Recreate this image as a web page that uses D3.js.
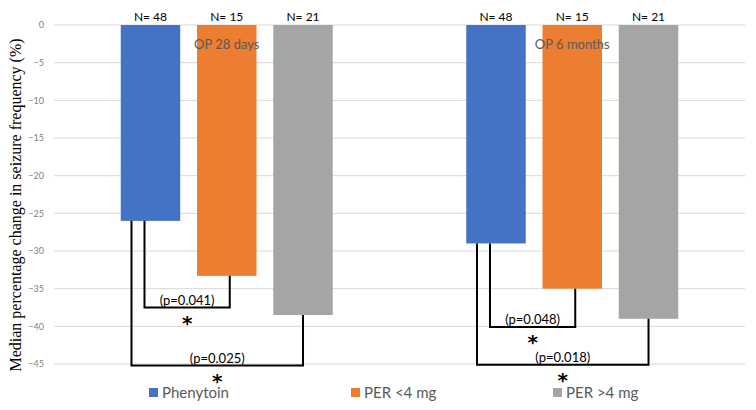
<!DOCTYPE html>
<html>
<head>
<meta charset="utf-8">
<script src="https://cdn.jsdelivr.net/npm/d3@7"></script>
<style>
  body { margin: 0; background: #fff; }
  text { font-family: Lato, "Open Sans", sans-serif; }
</style>
</head>
<body>
<svg id="chart" width="756" height="410"></svg>
<script>
// data
var periods = ['OP 28 days', 'OP 6 months'];
var series = ['Phenytoin', 'PER <4 mg', 'PER >4 mg'];
var colors = ['#4472c4', '#ed7d31', '#a5a5a5'];
var nLabels = ['N= 48', 'N= 15', 'N= 21'];
var values28d = [-26, -33.3, -38.5];
var values6m = [-29, -35, -39];
var yTicks = [0, -5, -10, -15, -20, -25, -30, -35, -40, -45];
// comparisons: period index, from series, to series, bracket level, label
var comparisons = [
    { period: 0, from: 0, to: 1, level: -37.5, p: '(p=0.041)' },
    { period: 0, from: 0, to: 2, level: -45.2, p: '(p=0.025)' },
    { period: 1, from: 0, to: 1, level: -40.1, p: '(p=0.048)' },
    { period: 1, from: 0, to: 2, level: -45.1, p: '(p=0.018)' }
];

var allValues = [values28d, values6m];

var svg = d3.select('#chart');
var plotLeft = 54, plotRight = 745, plotTop = 25, plotBottom = 364;

var y = d3.scaleLinear().domain([0, -45]).range([plotTop, plotBottom]);
var x0 = d3.scaleBand().domain(periods).range([plotLeft, plotRight]).paddingInner(0).paddingOuter(0);
var x1 = d3.scaleBand().domain(series).range([0, 212]).paddingInner(0.22).paddingOuter(0);
var groupOffset = (x0.bandwidth() - 212) / 2;

function barX(p, s) {
    return x0(periods[p]) + groupOffset + x1(series[s]);
}
function barCenter(p, s) {
    return barX(p, s) + x1.bandwidth() / 2;
}

// grid
svg.append('g')
    .selectAll('line')
    .data(yTicks)
    .join('line')
    .attr('x1', plotLeft).attr('x2', plotRight)
    .attr('y1', function (d) { return y(d); })
    .attr('y2', function (d) { return y(d); })
    .style('stroke', '#d9d9d9')
    .style('stroke-width', 1);

// y axis labels
var yAxis = d3.axisLeft(y).tickValues(yTicks).tickSize(0).tickPadding(0);
svg.append('g')
    .attr('transform', 'translate(44,0)')
    .call(yAxis)
    .call(function (g) {
        g.select('.domain').remove();
        g.selectAll('text')
            .style('fill', '#7f7f7f')
            .style('font-size', '9px')
            .style('font-family', 'Lato, sans-serif');
    });

svg.append('text')
    .attr('transform', 'translate(21,205) rotate(-90)')
    .attr('text-anchor', 'middle')
    .style('font-family', '"Liberation Serif", "Times New Roman", serif')
    .style('font-size', '16px')
    .style('fill', '#000')
    .text('Median percentage change in seizure frequency (%)');

// bars
var groups = svg.append('g')
    .selectAll('g')
    .data(periods)
    .join('g');

groups.each(function (period, p) {
    var g = d3.select(this);
    g.selectAll('rect')
        .data(allValues[p])
        .join('rect')
        .attr('x', function (d, s) { return barX(p, s); })
        .attr('y', y(0))
        .attr('width', x1.bandwidth())
        .attr('height', function (d) { return y(d) - y(0); })
        .style('fill', function (d, s) { return colors[s]; });

    g.selectAll('text.n')
        .data(nLabels)
        .join('text')
        .attr('class', 'n')
        .attr('x', function (d, s) { return barCenter(p, s); })
        .attr('y', 21)
        .attr('text-anchor', 'middle')
        .style('font-size', '12px')
        .style('fill', '#000')
        .text(function (d) { return d; });

    g.append('text')
        .attr('x', barCenter(p, 1))
        .attr('y', 49)
        .attr('text-anchor', 'middle')
        .style('font-size', '13px')
        .style('fill', '#595959')
        .text(period);
});

// significance brackets
var br = svg.append('g');
comparisons.forEach(function (c) {
    var vals = allValues[c.period];
    var xl = barCenter(c.period, c.from) + (c.to === 1 ? -6 : -19);
    var xr = barCenter(c.period, c.to) + (c.to === 1 ? 3 : 0);
    var yl = y(vals[c.from]), yr = y(vals[c.to]), yb = y(c.level);
    br.append('path')
        .attr('d', 'M' + xl + ',' + yl + 'V' + yb + 'H' + xr + 'V' + yr)
        .style('fill', 'none')
        .style('stroke', '#000')
        .style('stroke-width', 2);
    var cx = (xl + xr) / 2;
    br.append('text')
        .attr('x', cx)
        .attr('y', yb - 3)
        .attr('text-anchor', 'middle')
        .style('font-size', '13px')
        .style('fill', '#000')
        .text(c.p);
    br.append('text')
        .attr('x', cx)
        .attr('y', yb + 22)
        .attr('text-anchor', 'middle')
        .style('font-family', '"DejaVu Sans", sans-serif')
        .style('font-size', '20px')
        .style('font-weight', 'bold')
        .style('fill', '#000')
        .text('*');
});

// legend
var legend = svg.append('g')
    .selectAll('g')
    .data(series)
    .join('g')
    .attr('transform', function (d, i) { return 'translate(' + (149 + i * 202) + ',393)'; });
legend.append('rect')
    .attr('x', 0).attr('y', -5)
    .attr('width', 9).attr('height', 9)
    .style('fill', function (d, i) { return colors[i]; });
legend.append('text')
    .attr('x', 13)
    .attr('y', 5)
    .style('font-size', '15px')
    .style('fill', '#595959')
    .text(function (d) { return d; });
</script>
</body>
</html>
